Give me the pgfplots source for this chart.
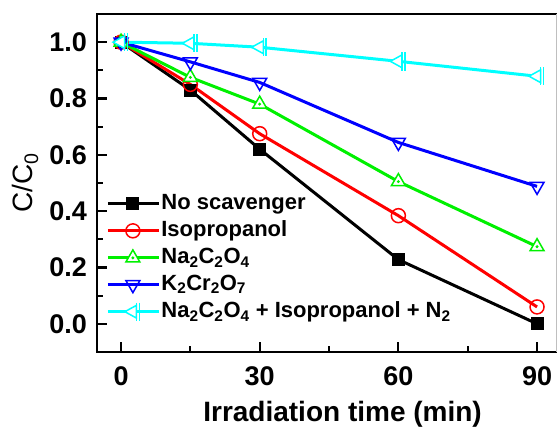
\documentclass[border=0pt]{standalone}
\usepackage{fontspec}
\setmainfont{Liberation Sans}
\usepackage{pgfplots}
\pgfplotsset{compat=1.18}
\usetikzlibrary{calc}
\definecolor{cgreen}{RGB}{0,240,0}
\definecolor{ccyan}{RGB}{0,255,255}
\makeatletter
\pgfdeclareplotmark{tribar}{%
  \pgfpathmoveto{\pgfqpoint{-\pgfplotmarksize}{0pt}}%
  \pgfpathlineto{\pgfqpoint{0.45\pgfplotmarksize}{0.8\pgfplotmarksize}}%
  \pgfpathlineto{\pgfqpoint{0.45\pgfplotmarksize}{-0.8\pgfplotmarksize}}%
  \pgfpathclose
  \pgfusepathqfillstroke
  \pgfpathmoveto{\pgfqpoint{0.45\pgfplotmarksize}{1.15\pgfplotmarksize}}%
  \pgfpathlineto{\pgfqpoint{0.45\pgfplotmarksize}{-1.15\pgfplotmarksize}}%
  \pgfpathmoveto{\pgfqpoint{0.8\pgfplotmarksize}{1.15\pgfplotmarksize}}%
  \pgfpathlineto{\pgfqpoint{0.8\pgfplotmarksize}{-1.15\pgfplotmarksize}}%
  \pgfusepathqstroke
}
\pgfdeclareplotmark{tridot}{%
  \pgfpathmoveto{\pgfqpoint{0pt}{\pgfplotmarksize}}%
  \pgfpathlineto{\pgfqpointpolar{-30}{\pgfplotmarksize}}%
  \pgfpathlineto{\pgfqpointpolar{210}{\pgfplotmarksize}}%
  \pgfpathclose
  \pgfusepathqfillstroke
  \pgfpathcircle{\pgfqpoint{0pt}{0pt}}{0.6pt}%
  \pgfusepathqstroke
}
\makeatother
\begin{document}
\begin{tikzpicture}
\begin{axis}[
  scale only axis, width=459pt, height=338pt,
  xmin=-5.2, xmax=94.1, ymin=-0.1, ymax=1.1,
  axis x line*=bottom, axis y line*=left,
  x axis line style={-}, y axis line style={-},
  every outer x axis line/.append style={line width=2.6pt},
  every outer y axis line/.append style={line width=2.6pt},
  xtick={0,30,60,90}, minor xtick={15,45,75},
  ytick={0,0.2,0.4,0.6,0.8,1.0}, minor ytick={0.1,0.3,0.5,0.7,0.9},
  major tick length=10pt, minor tick length=6pt,
  every major tick/.append style={black, line width=2.2pt},
  every minor tick/.append style={black, line width=2.2pt},
  /pgf/number format/assume math mode=true,
  ticklabel style={font=\bfseries\fontsize{27}{27}\selectfont, inner sep=0pt},
  yticklabel style={/pgf/number format/.cd, fixed, fixed zerofill, precision=1, /tikz/.cd, xshift=-10pt},
  xticklabel style={yshift=-14pt},
  xlabel={Irradiation time (min)},
  xlabel style={font=\bfseries\fontsize{28}{28}\selectfont, at={(rel axis cs:0.535,0)}, anchor=base, yshift=-70pt},
  ylabel={C/C\textsubscript{0}},
  ylabel style={font=\fontsize{28}{28}\selectfont, at={(rel axis cs:0,0.5)}, anchor=base, yshift=64pt},
  clip=false,
  legend style={draw=none, fill=none, at={(rel axis cs:0.02,0.47)}, anchor=north west,
    font=\bfseries\fontsize{22}{22}\selectfont, row sep=5.4pt, inner sep=0pt,
    nodes={inner sep=1pt, text depth=4pt}},
  legend cell align=left,
  legend image code/.code={\draw[mark repeat=2, mark phase=2] plot coordinates {(0pt,0pt) (25pt,0pt) (51pt,0pt)};},
]
\coordinate (sw) at (rel axis cs:0,0);
\coordinate (nw) at (rel axis cs:0,1);
\coordinate (ne) at (rel axis cs:1,1);
\coordinate (se) at (rel axis cs:1,0);
\addplot[black, line width=3pt, mark=square*, mark size=6pt, mark options={line width=1pt}]
  coordinates {(0,1.0) (15,0.83) (30,0.62) (60,0.228) (90,0.0)};
\addlegendentry{No scavenger}
\addplot[red, line width=3pt, mark=o, mark size=7pt, mark options={fill=white, line width=1.5pt}]
  coordinates {(0,1.0) (15,0.85) (30,0.675) (60,0.384) (90,0.06)};
\addlegendentry{Isopropanol}
\addplot[cgreen, line width=3pt, mark=tridot, mark size=8pt, mark options={fill=white, line width=1.5pt}]
  coordinates {(0,1.0) (15,0.875) (30,0.78) (60,0.505) (90,0.274)};
\addlegendentry{Na\textsubscript{2}C\textsubscript{2}O\textsubscript{4}}
\addplot[blue, line width=3pt, mark=triangle, mark size=8pt, mark options={fill=white, line width=1.5pt, rotate=180}]
  coordinates {(0,1.0) (15,0.93) (30,0.857) (60,0.644) (90,0.488)};
\addlegendentry{K\textsubscript{2}Cr\textsubscript{2}O\textsubscript{7}}
\addplot[ccyan, line width=3pt, mark=tribar, mark size=8pt, mark options={fill=white, line width=1.5pt}]
  coordinates {(0,1.0) (15,0.996) (30,0.982) (60,0.932) (90,0.879)};
\addlegendentry{Na\textsubscript{2}C\textsubscript{2}O\textsubscript{4} + Isopropanol + N\textsubscript{2}}
\end{axis}
\draw[line width=2.6pt, line cap=rect] (se) -- (sw) -- (nw) -- (ne);
\draw[line width=0.6pt, black!25] (ne) -- (se);
\pgfresetboundingbox
\path[use as bounding box] ($(sw)+(-97pt,-75pt)$) rectangle ++(558pt,427pt);
\end{tikzpicture}
\end{document}
